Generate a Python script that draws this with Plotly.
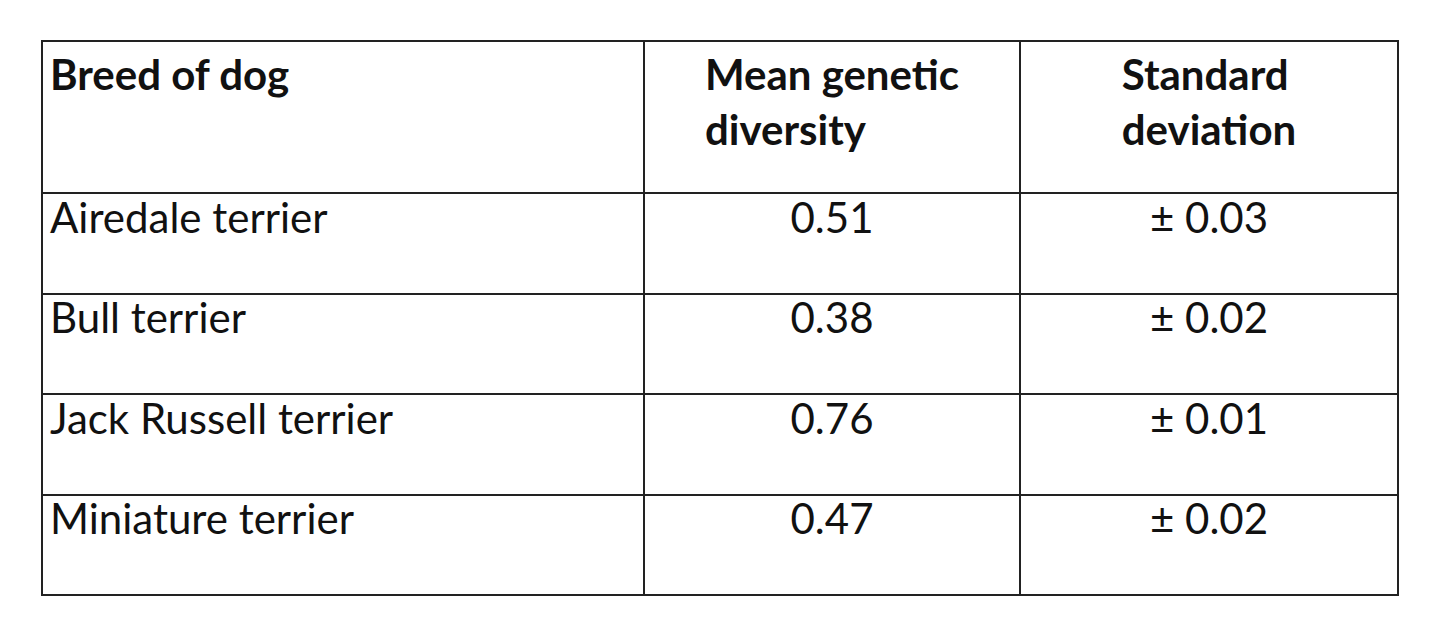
import plotly.graph_objects as go

headers = ["<b>Breed of dog</b>", "<b>Mean genetic<br>diversity</b>", "<b>Standard<br>deviation</b>"]
breeds = ["Airedale terrier", "Bull terrier", "Jack Russell terrier", "Miniature terrier"]
means = ["0.51", "0.38", "0.76", "0.47"]
sds = ["± 0.03", "± 0.02", "± 0.01", "± 0.02"]

W, H = 1440, 624
fig = go.Figure(go.Table(
    columnwidth=[602, 376, 378],
    header=dict(values=headers, height=152, align=["left", "center", "center"],
                line=dict(color="#222", width=2), fill_color="white",
                font=dict(family="Lato", size=42, color="#111")),
    cells=dict(values=[breeds, means, sds], height=100.5, align=["left", "center", "center"],
               line=dict(color="#222", width=2), fill_color="white",
               font=dict(family="Lato", size=42, color="#111")),
    domain=dict(x=[34 / W, 1390 / W], y=[0, 1 - 33 / H]),
))
fig.update_layout(width=W, height=H, margin=dict(l=0, r=0, t=0, b=0),
                  paper_bgcolor="white")
fig.write_html("out.html")
